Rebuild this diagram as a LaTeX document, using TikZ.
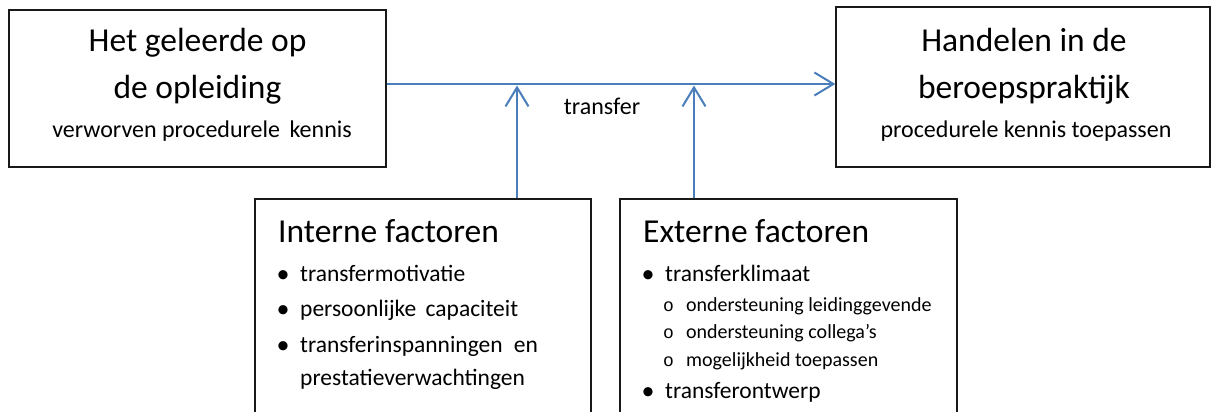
\documentclass[tikz,border=0pt]{standalone}
\usepackage{fontspec}
\setmainfont{Carlito}
\newfontfamily\rondjefont{Liberation Mono}
\usetikzlibrary{arrows.meta, positioning}
\definecolor{transferblauw}{HTML}{4A7EBB}
\newcommand{\stip}{\makebox[21pt][l]{\hspace*{-2.5pt}\raisebox{-1pt}{\fontsize{26}{26}\selectfont •}}}
\newcommand{\rondje}{\makebox[23pt][l]{\rondjefont\fontsize{18}{20}\selectfont o}}

\begin{document}
\begin{tikzpicture}[
x=1pt, y=-1pt,
box/.style={draw=black!90, line width=1.3pt, rectangle, inner sep=0pt},
titel/.style={anchor=base, inner sep=0pt, font=\fontsize{33.5}{40}\selectfont},
ondertitel/.style={anchor=base, inner sep=0pt, font=\fontsize{24}{29}\selectfont},
kop/.style={anchor=base west, inner sep=0pt, font=\fontsize{33.5}{40}\selectfont},
punt/.style={anchor=base west, inner sep=0pt, font=\fontsize{23.5}{28}\selectfont},
subpunt/.style={anchor=base west, inner sep=0pt, font=\fontsize{20}{24}\selectfont},
arrow/.style={-{Straight Barb[length=19pt, width=23pt]}, line width=2pt, draw=transferblauw}
]

\clip (0,0) rectangle (1212,412);

% boxes
\node[box, minimum width=377pt, minimum height=157pt] (geleerd) at (197.5,88.5) {};
\node[box, minimum width=374pt, minimum height=160pt] (handelen) at (1023,87) {};
\node[box, minimum width=336pt, minimum height=240pt] (interne) at (423,319) {};
\node[box, minimum width=337pt, minimum height=240pt] (externe) at (788.5,319) {};

% texts in the top boxes
\node[titel] (geleerd1) at (197.5,52) {Het geleerde op};
\node[titel] (geleerd2) at (197.5,98) {de opleiding};
\node[ondertitel] (geleerd3) at (202,137) {verworven procedurele\hspace{4pt} kennis};

\node[titel] (handelen1) at (1024,52) {Handelen in de};
\node[titel] (handelen2) at (1024,98) {beroepspraktijk};
\node[ondertitel] (handelen3) at (1026,137) {procedurele kennis toepassen};

\node[ondertitel] (transfer) at (602,114) {transfer};

% interne factoren
\node[kop] (internekop) at (278,242) {Interne factoren};
\node[punt] (intern1) at (279,281) {\stip transfermotivatie};
\node[punt] (intern2) at (279,316) {\stip persoonlijke\hspace{4pt} capaciteit};
\node[punt] (intern3) at (279,352) {\stip transferinspanningen\hspace{6pt} en};
\node[punt] (intern4) at (300,385) {prestatieverwachtingen};

% externe factoren
\node[kop] (externekop) at (643,242) {Externe factoren};
\node[punt] (extern1) at (644,281) {\stip transferklimaat};
\node[subpunt] (extern2) at (663,311) {\rondje ondersteuning leidinggevende};
\node[subpunt] (extern3) at (663,338) {\rondje ondersteuning collega’s};
\node[subpunt] (extern4) at (663,366) {\rondje mogelijkheid toepassen};
\node[punt] (extern5) at (644,398) {\stip transferontwerp};

% arrows
\coordinate (transferlijn) at (0,84);
\coordinate (internpijl) at (517,0);
\coordinate (externpijl) at (694,0);

\draw[arrow] (geleerd.east |- transferlijn) -- (handelen.west |- transferlijn);
\draw[arrow, shorten >=1.5pt] (interne.north -| internpijl) -- (internpijl |- transferlijn);
\draw[arrow, shorten >=1.5pt] (externe.north -| externpijl) -- (externpijl |- transferlijn);

\end{tikzpicture}
\end{document}
